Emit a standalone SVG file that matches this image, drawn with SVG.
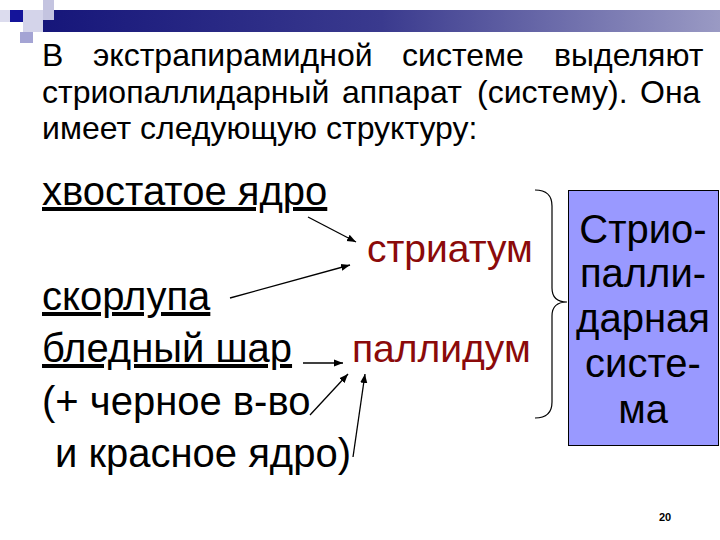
<svg xmlns="http://www.w3.org/2000/svg" width="720" height="540" viewBox="0 0 720 540">
<defs>
<linearGradient id="bar" x1="0" y1="0" x2="1" y2="0">
<stop offset="0" stop-color="#16167a"/>
<stop offset="0.5" stop-color="#3a3a8e"/>
<stop offset="1" stop-color="#9a9ac4"/>
</linearGradient>
<marker id="ah" viewBox="0 0 10 10" refX="10" refY="5" markerWidth="9" markerHeight="9" markerUnits="userSpaceOnUse" orient="auto">
<path d="M0,1 L10,5 L0,9 Z" fill="#000"/>
</marker>
<style>
.t{font-family:"Liberation Sans",Arial,sans-serif;fill:#000}
.intro{font-size:32px}
.item{font-size:40px}
.red{font-size:39px;fill:#8b0a0a}
.box{font-size:40px;text-anchor:middle}
.u{text-decoration:underline}
.arr{stroke:#000;stroke-width:1.3;fill:none;marker-end:url(#ah)}
</style>
</defs>
<rect width="720" height="540" fill="#fff"/>
<g id="decor">
<rect x="0" y="10" width="10" height="12" fill="#dcdcee"/>
<rect x="23" y="10" width="20" height="22" fill="#d4d4ea"/>
<rect x="43" y="10" width="677" height="22" fill="url(#bar)"/>
<rect x="43" y="0" width="11" height="20" fill="#c4c4e0"/>
<rect x="10" y="10" width="13" height="12" fill="#14149a"/>
<rect x="20" y="32" width="13" height="11" fill="#a4a4d4"/>
</g>
<g id="intro">
<text class="t intro" y="66"><tspan x="42">В</tspan><tspan x="93">экстрапирамидной</tspan><tspan x="402">системе</tspan><tspan x="554">выделяют</tspan></text>
<text class="t intro" y="103"><tspan x="42">стриопаллидарный</tspan><tspan x="342">аппарат</tspan><tspan x="477">(систему).</tspan><tspan x="640">Она</tspan></text>
<text class="t intro" x="42" y="139">имеет следующую структуру:</text>
</g>
<g id="caudate"><text class="t item u" x="42" y="205">хвостатое ядро</text></g>
<g id="putamen"><text class="t item u" x="42" y="310">скорлупа</text></g>
<g id="globus"><text class="t item u" x="42" y="362">бледный шар</text></g>
<g id="nigra"><text class="t item" x="42" y="415">(+ черное в-во</text></g>
<g id="rednucleus"><text class="t item" x="55" y="467">и красное ядро)</text></g>
<g id="striatum"><text class="t red" x="367" y="262">стриатум</text></g>
<g id="pallidum"><text class="t red" x="352" y="362">паллидум</text></g>
<g id="brace"><path d="M535,190 Q552,190 552,206 L552,288 Q552,302 567,302 Q552,302 552,316 L552,402 Q552,418 535,418" fill="none" stroke="#000" stroke-width="1.2"/></g>
<g id="system">
<rect x="568.5" y="190.5" width="150" height="255" fill="#9999ff" stroke="#000" stroke-width="1"/>
<text class="t box" x="643" y="243">Стрио-</text>
<text class="t box" x="643" y="287">палли-</text>
<text class="t box" x="643" y="332">дарная</text>
<text class="t box" x="643" y="377">систе-</text>
<text class="t box" x="643" y="423">ма</text>
</g>
<g id="connectors">
<line class="arr" x1="308" y1="217" x2="356" y2="242"/>
<line class="arr" x1="230" y1="298" x2="350" y2="265"/>
<line class="arr" x1="303" y1="363" x2="343" y2="363"/>
<line class="arr" x1="310" y1="415" x2="348" y2="374"/>
<line class="arr" x1="353" y1="457" x2="365" y2="374"/>
</g>
<g id="pagenum"><text class="t" x="665" y="521" font-size="11" font-weight="bold" text-anchor="middle">20</text></g>
</svg>
